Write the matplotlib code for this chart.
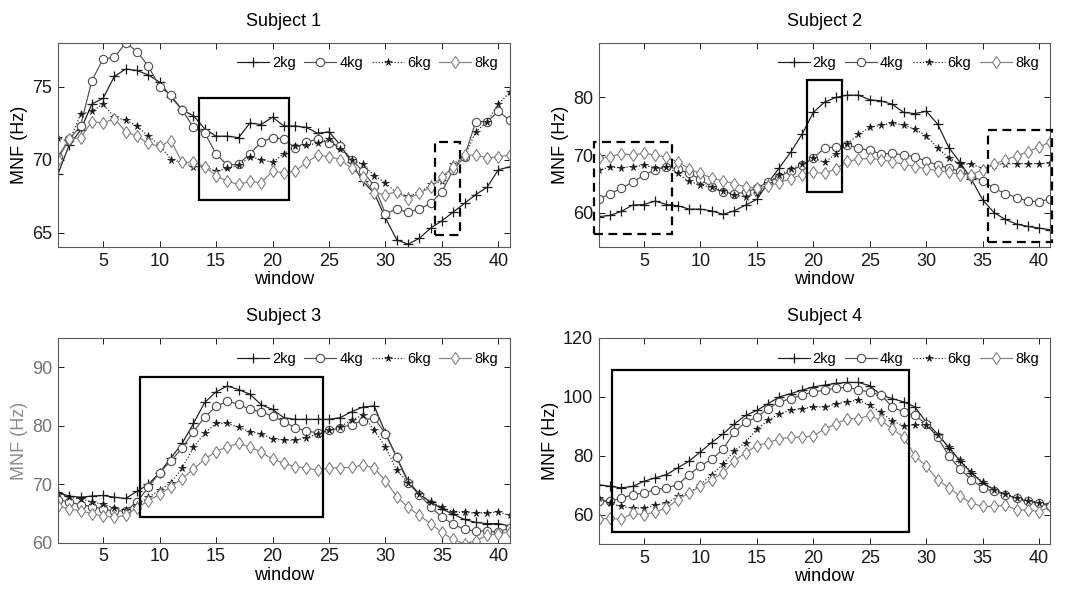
import numpy as np
import matplotlib
matplotlib.use("Agg")
import matplotlib.pyplot as plt
from matplotlib.patches import Rectangle

plt.rcParams['font.family'] = ['Liberation Sans', 'DejaVu Sans']

window = np.arange(1, 42)
loads = ["2kg", "4kg", "6kg", "8kg"]

# subject 1
s1_2kg = [69.0, 71.0, 72.0, 73.8, 74.2, 75.7, 76.2, 76.1, 75.8, 75.3, 74.3, 73.4, 73.0, 72.1, 71.6,
          71.6, 71.5, 72.5, 72.4, 72.9, 72.3, 72.3, 72.2, 71.8, 71.9, 71.0, 69.8, 68.5, 67.7, 66.0,
          64.5, 64.2, 64.6, 65.3, 65.8, 66.4, 67.0, 67.6, 68.1, 69.3, 69.5]
s1_4kg = [70.2, 71.4, 72.3, 75.4, 76.9, 77.0, 78.0, 77.4, 76.4, 75.0, 74.4, 73.4, 72.2, 71.8, 70.4,
          69.6, 69.7, 70.4, 71.2, 71.5, 71.4, 70.8, 71.2, 71.4, 71.1, 70.9, 70.0, 69.2, 68.2, 66.3,
          66.6, 66.4, 66.6, 67.0, 67.8, 69.3, 70.2, 72.6, 72.6, 73.3, 72.7]
s1_6kg = [71.5, 71.2, 73.1, 73.3, 73.8, 72.9, 72.7, 72.3, 71.6, 71.0, 70.0, 69.8, 69.5, 69.5, 69.2,
          69.4, 69.6, 70.2, 70.0, 69.8, 70.4, 70.9, 71.0, 71.1, 71.4, 70.7, 70.0, 69.7, 68.9, 68.4,
          67.7, 67.5, 67.7, 68.3, 68.5, 69.7, 70.2, 71.9, 72.6, 73.8, 74.6]
s1_8kg = [70.0, 71.4, 71.5, 72.6, 72.5, 72.8, 71.9, 71.6, 71.1, 70.9, 71.3, 69.8, 69.8, 69.5, 68.9,
          68.5, 68.3, 68.5, 68.4, 69.2, 69.1, 69.2, 69.8, 70.3, 70.2, 70.0, 69.4, 68.8, 67.7, 67.6,
          67.8, 67.3, 67.7, 68.1, 68.8, 69.5, 70.3, 70.3, 70.1, 70.2, 70.3]

# subject 2
s2_2kg = [59.3, 59.5, 60.2, 61.3, 61.4, 62.0, 61.4, 61.2, 60.6, 60.6, 60.3, 59.7, 60.3, 61.3, 62.3,
          65.2, 67.8, 70.5, 73.6, 77.4, 79.2, 80.0, 80.4, 80.4, 79.6, 79.4, 78.8, 77.4, 77.2, 77.6,
          75.4, 71.3, 68.7, 65.8, 62.2, 60.0, 58.8, 58.0, 57.6, 57.3, 57.0]
s2_4kg = [62.3, 63.3, 64.2, 65.3, 66.5, 67.4, 67.9, 67.6, 66.8, 65.8, 64.4, 63.5, 63.3, 63.5, 64.3,
          65.3, 66.2, 67.3, 68.2, 69.5, 71.2, 71.4, 71.8, 71.2, 70.8, 70.2, 70.3, 70.0, 69.7, 68.9,
          68.3, 67.7, 67.2, 66.3, 65.5, 64.2, 63.3, 62.6, 62.0, 61.9, 62.4]
s2_6kg = [67.4, 67.9, 67.8, 68.0, 68.2, 67.8, 67.9, 66.8, 65.4, 64.8, 64.4, 63.8, 63.0, 62.7, 63.4,
          65.2, 66.6, 67.5, 68.4, 69.5, 68.7, 70.2, 71.9, 73.6, 74.8, 75.2, 75.5, 75.2, 74.5, 73.3,
          71.3, 69.5, 68.4, 68.4, 67.7, 68.3, 68.5, 68.5, 68.5, 68.5, 68.6]
s2_8kg = [69.5, 69.7, 70.2, 70.0, 70.3, 70.0, 69.6, 68.8, 67.6, 66.8, 66.0, 65.5, 65.0, 64.5, 64.2,
          64.6, 65.2, 65.9, 66.6, 67.0, 66.8, 67.6, 68.9, 69.3, 69.4, 69.2, 68.8, 68.4, 68.0, 67.6,
          67.3, 67.0, 66.6, 66.6, 67.4, 68.4, 69.2, 69.8, 70.6, 71.4, 72.3]

# subject 3
s3_2kg = [68.6, 68.0, 67.8, 68.0, 68.1, 67.8, 67.6, 68.8, 70.0, 72.0, 74.5, 77.0, 80.4, 84.0, 85.8,
          86.8, 86.2, 85.4, 83.6, 82.8, 81.4, 81.1, 81.1, 81.1, 81.1, 81.4, 82.4, 83.2, 83.4, 78.8,
          74.6, 70.6, 68.3, 67.0, 65.8, 64.9, 64.0, 63.5, 63.3, 63.3, 62.9]
s3_4kg = [67.4, 67.0, 66.5, 66.2, 65.8, 65.4, 65.5, 67.0, 69.5, 72.0, 74.0, 76.2, 79.0, 81.5, 83.3,
          84.2, 83.7, 82.8, 82.4, 81.6, 80.7, 79.7, 79.1, 78.8, 79.2, 79.7, 80.2, 80.9, 81.4, 78.6,
          74.6, 70.3, 68.2, 66.2, 64.4, 63.2, 62.3, 62.0, 62.1, 61.8, 62.6]
s3_6kg = [68.5, 67.8, 67.5, 67.0, 66.6, 66.0, 65.6, 66.5, 67.8, 69.0, 70.3, 72.8, 76.3, 78.8, 80.4,
          80.4, 79.8, 79.0, 78.6, 77.8, 77.6, 77.5, 78.0, 78.6, 79.2, 79.8, 81.0, 81.8, 79.3, 76.3,
          72.4, 70.3, 68.3, 67.0, 66.1, 65.3, 65.2, 65.1, 65.1, 65.3, 64.7]
s3_8kg = [66.3, 65.8, 65.5, 65.0, 64.6, 64.4, 64.7, 66.0, 67.2, 68.3, 69.6, 71.0, 72.6, 74.3, 75.6,
          76.4, 77.0, 76.4, 75.5, 74.3, 73.6, 73.0, 72.8, 72.4, 72.8, 72.8, 72.9, 73.3, 72.8, 70.6,
          67.9, 66.1, 64.7, 63.3, 61.8, 60.6, 59.8, 60.4, 61.3, 61.6, 61.9]

# subject 4
s4_2kg = [70.2, 69.6, 69.1, 69.6, 71.3, 72.5, 73.6, 75.9, 78.2, 81.3, 84.5, 87.4, 90.8, 93.7, 95.4,
          97.7, 100.0, 101.1, 102.3, 103.4, 104.0, 104.6, 104.9, 104.9, 103.8, 100.6, 99.4, 98.3, 96.6, 91.4,
          87.4, 82.8, 78.2, 74.2, 70.8, 68.5, 66.8, 65.6, 64.5, 63.7, 63.4]
s4_4kg = [64.8, 64.5, 65.6, 66.8, 67.4, 68.5, 69.1, 70.2, 73.6, 76.5, 78.8, 82.2, 88.0, 91.4, 93.1,
          96.0, 98.3, 99.4, 100.6, 101.7, 102.3, 102.9, 103.4, 102.3, 101.7, 100.6, 96.6, 94.8, 93.7, 90.8,
          86.3, 80.0, 75.4, 71.9, 69.1, 67.9, 66.8, 65.6, 64.5, 64.1, 63.0]
s4_6kg = [65.6, 63.9, 62.8, 62.2, 62.2, 63.3, 63.9, 66.2, 67.4, 70.2, 73.6, 77.1, 81.7, 84.5, 89.1,
          92.0, 94.3, 95.4, 96.0, 96.6, 96.6, 97.7, 98.3, 98.9, 97.1, 94.8, 91.8, 90.2, 90.5, 90.4,
          87.0, 83.0, 78.5, 74.5, 71.0, 68.5, 67.0, 65.8, 64.8, 64.0, 63.5]
s4_8kg = [58.4, 58.8, 58.4, 60.5, 59.9, 61.0, 62.2, 65.1, 67.4, 69.6, 71.9, 74.2, 78.2, 81.1, 83.4,
          84.5, 85.7, 86.3, 86.3, 86.8, 89.1, 90.8, 92.6, 92.6, 93.7, 92.0, 89.1, 86.3, 80.0, 76.5,
          71.9, 69.1, 66.2, 63.9, 62.8, 62.8, 63.3, 61.6, 61.6, 61.0, 62.8]

subjects = [
    ("Subject 1", [s1_2kg, s1_4kg, s1_6kg, s1_8kg], (64, 78), [65, 70, 75]),
    ("Subject 2", [s2_2kg, s2_4kg, s2_6kg, s2_8kg], (54, 89.5), [60, 70, 80]),
    ("Subject 3", [s3_2kg, s3_4kg, s3_6kg, s3_8kg], (60, 95), [60, 70, 80, 90]),
    ("Subject 4", [s4_2kg, s4_4kg, s4_6kg, s4_8kg], (50, 120), [60, 80, 100, 120]),
]

# highlighted regions: (x0, y0, width, height, linestyle)
boxes = [
    [(13.5, 67.2, 8.0, 7.0, "-"), (34.4, 64.8, 2.2, 6.4, "--")],
    [(19.4, 63.5, 3.1, 19.5, "-"), (0.6, 56.2, 6.9, 16.0, "--"), (35.5, 54.8, 5.6, 19.5, "--")],
    [(8.3, 64.5, 16.2, 23.9, "-")],
    [(2.2, 54.1, 26.3, 54.9, "-")],
]

styles = [
    dict(color="0.1", linestyle="-", marker="+", markersize=7.5, mew=0.9, mfc="none"),
    dict(color="0.3", linestyle="-", marker="o", markersize=6, mew=0.8, mfc="white"),
    dict(color="0.1", linestyle=":", marker="*", markersize=5.5, mew=0.5),
    dict(color="0.5", linestyle="-", marker="d", markersize=6.5, mew=0.8, mfc="white"),
]

fig = plt.figure(figsize=(10.73, 5.94), dpi=100)
positions = [
    [0.054, 0.584, 0.421, 0.344],
    [0.558, 0.584, 0.421, 0.344],
    [0.054, 0.086, 0.421, 0.345],
    [0.558, 0.084, 0.421, 0.347],
]

for i, (title, series, ylim, yticks) in enumerate(subjects):
    ax = fig.add_axes(positions[i])
    for name, vals, st in zip(loads, series, styles):
        ax.plot(window, vals, linewidth=0.85, label=name, **st)
    for (x0, y0, w, h, ls) in boxes[i]:
        rect = Rectangle((x0, y0), w, h, fill=False, edgecolor="black", linewidth=1.6,
                         linestyle=ls, clip_on=False, zorder=5)
        if ls == "--":
            rect.set_linestyle((0, (4, 2.5)))
        ax.add_patch(rect)
    ax.set_xlim(1, 41)
    ax.set_ylim(*ylim)
    ax.set_xticks(range(5, 41, 5))
    ax.set_yticks(yticks)
    ax.tick_params(direction="in", top=True, right=True, length=4, width=0.7,
                   labelsize=13, colors="0.1", pad=4)
    for sp in ax.spines.values():
        sp.set_linewidth(0.8)
        sp.set_color("0.35")
    ax.set_title(title, fontsize=13, pad=12)
    ax.set_xlabel("window", fontsize=13, labelpad=1)
    lab_color = "0.55" if i == 2 else "black"
    ax.set_ylabel("MNF (Hz)", fontsize=13, labelpad=3, color=lab_color)
    if i == 2:
        for t in ax.get_yticklabels():
            t.set_color("0.45")
    ax.legend(ncol=4, loc="upper right", frameon=False, fontsize=10.5,
              handlelength=2.2, handletextpad=0.2, columnspacing=0.6,
              borderaxespad=0.4, bbox_to_anchor=(1.0, 0.99))

fig.savefig("out.png", dpi=100)
